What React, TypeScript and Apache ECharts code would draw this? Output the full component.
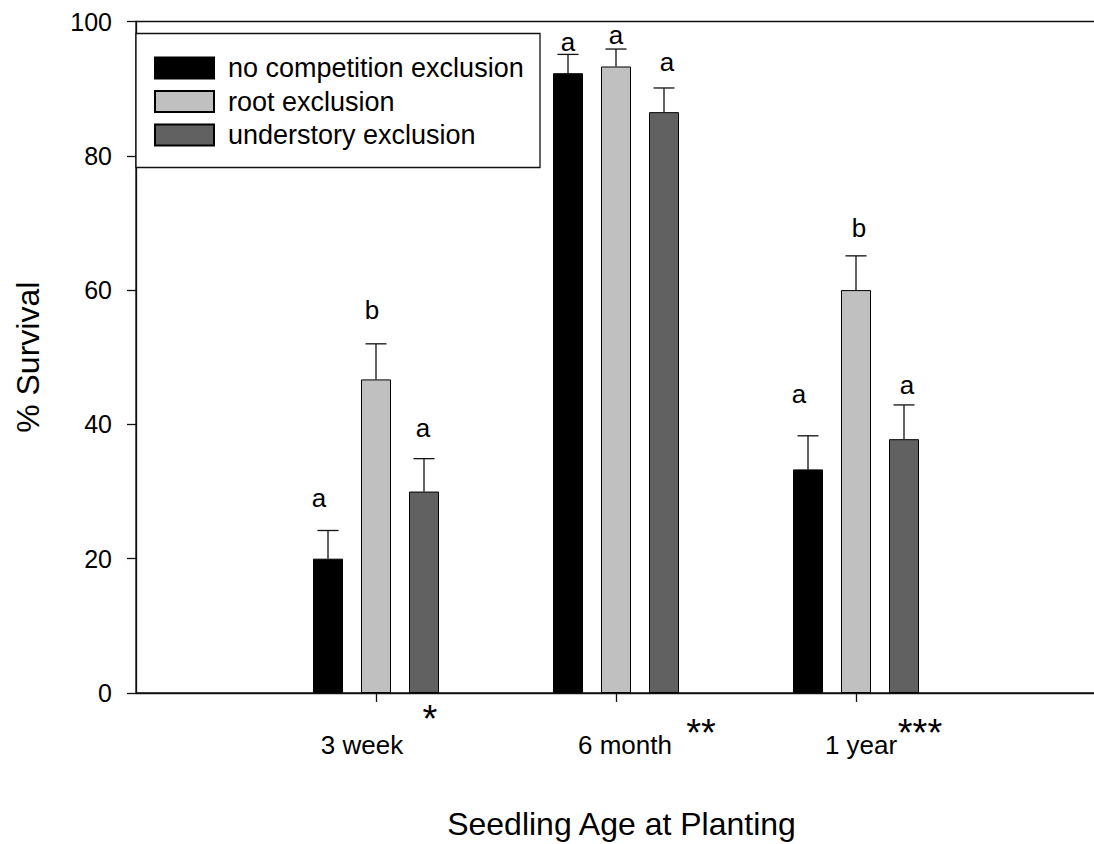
import React, { useEffect, useRef } from "react";
import * as echarts from "echarts";

// Seedling ages (x positions 1, 2, 3 on the axis) and significance marks
const categories = ["3 week", "6 month", "1 year"];
const significance = ["*", "**", "***"];

// Treatments
const seriesNames = ["no competition exclusion", "root exclusion", "understory exclusion"];

// Mean % survival per seedling age
const noExclusion = [20.0, 92.3, 33.3];
const rootExclusion = [46.7, 93.3, 60.0];
const understoryExclusion = [30.0, 86.5, 37.8];

// Standard errors
const noExclusionErr = [4.2, 2.8, 5.0];
const rootExclusionErr = [5.3, 2.6, 5.1];
const understoryExclusionErr = [4.9, 3.6, 5.1];

// Group letters and the % survival level of their baselines
const noExclusionLetters = ["a", "a", "a"];
const rootExclusionLetters = ["b", "a", "b"];
const understoryExclusionLetters = ["a", "a", "a"];
const noExclusionLetterAt = [27.8, 95.8, 43.4];
const rootExclusionLetterAt = [55.9, 96.8, 68.0];
const understoryExclusionLetterAt = [38.2, 92.8, 44.7];

const yTicks = [0, 20, 40, 60, 80, 100];

const FONT = "'Liberation Sans', Arial, Helvetica, sans-serif";
const INK = "#111";

const treatments = [
  { name: seriesNames[0], values: noExclusion, errs: noExclusionErr, letters: noExclusionLetters, letterAt: noExclusionLetterAt, color: "#000000", shift: -0.2, letterDx: [-9, 0, -9] },
  { name: seriesNames[1], values: rootExclusion, errs: rootExclusionErr, letters: rootExclusionLetters, letterAt: rootExclusionLetterAt, color: "#c0c0c0", shift: 0, letterDx: [-4, 0, 3] },
  { name: seriesNames[2], values: understoryExclusion, errs: understoryExclusionErr, letters: understoryExclusionLetters, letterAt: understoryExclusionLetterAt, color: "#616161", shift: 0.2, letterDx: [-1, 3, 3] },
];

// Pixel placement of the category labels and asterisks relative to each tick
const labelShift = [-14, 9, 5];
const starOffset = [
  [54, 26],
  [85, 40],
  [64, 40],
];

export default function App() {
  const ref = useRef<HTMLDivElement>(null);

  useEffect(() => {
    if (!ref.current) return;
    const chart = echarts.init(ref.current, null, { renderer: "svg" });

    const barSeries = treatments.map((t) => ({
      type: "bar",
      name: t.name,
      data: t.values.map((v, i) => [i + 1 + t.shift, v]),
      barWidth: 30,
      barGap: "-100%",
      itemStyle: { color: t.color, borderColor: "#000", borderWidth: 1 },
      z: 2,
    }));

    const errorSeries = treatments.map((t) => ({
      type: "custom",
      name: t.name + " SE",
      data: t.values.map((v, i) => [i + 1 + t.shift, v, t.errs[i], t.letterAt[i]]),
      z: 3,
      renderItem: (params: any, api: any) => {
        const x = api.value(0);
        const v = api.value(1);
        const e = api.value(2);
        const la = api.value(3);
        const base = api.coord([x, v]);
        const top = api.coord([x, v + e]);
        const lp = api.coord([x, la]);
        const idx = params.dataIndex;
        return {
          type: "group",
          children: [
            { type: "line", shape: { x1: base[0], y1: base[1], x2: top[0], y2: top[1] }, style: { stroke: INK, lineWidth: 1.3 } },
            { type: "line", shape: { x1: top[0] - 10.5, y1: top[1], x2: top[0] + 10.5, y2: top[1] }, style: { stroke: INK, lineWidth: 1.3 } },
            {
              type: "text",
              x: lp[0] + t.letterDx[idx],
              y: lp[1] + 5,
              style: { text: t.letters[idx], fill: "#000", font: `26px ${FONT}`, align: "center", verticalAlign: "bottom" },
            },
          ],
        };
      },
    }));

    const starSeries = {
      type: "custom",
      name: "significance",
      data: categories.map((_, i) => [i + 1, 0]),
      z: 3,
      renderItem: (params: any, api: any) => {
        const p = api.coord([api.value(0), api.value(1)]);
        const i = params.dataIndex;
        return {
          type: "text",
          x: p[0] + starOffset[i][0],
          y: p[1] + starOffset[i][1],
          style: { text: significance[i], fill: "#000", font: `38px ${FONT}`, align: "center", verticalAlign: "middle" },
        };
      },
    };

    chart.setOption({
      animation: false,
      backgroundColor: "#ffffff",
      textStyle: { fontFamily: FONT },
      grid: {
        left: 136,
        right: 4,
        top: 21.5,
        bottom: 151,
        show: true,
        borderColor: INK,
        borderWidth: 1.3,
        backgroundColor: "transparent",
        containLabel: false,
        outerBoundsMode: "none",
      },
      legend: {
        data: seriesNames,
        orient: "vertical",
        left: 154,
        top: 54.5,
        padding: 0,
        itemWidth: 59,
        itemHeight: 21,
        itemGap: 6.5,
        icon: "rect",
        selectedMode: false,
        textStyle: { fontSize: 27, color: "#000", fontFamily: FONT, padding: [0, 0, 0, 9] },
        z: 5,
      },
      graphic: [
        {
          type: "rect",
          shape: { x: 136, y: 33.5, width: 404, height: 134 },
          style: { fill: "#fff", stroke: INK, lineWidth: 1.3 },
          z: 4,
        },
      ],
      xAxis: {
        type: "value",
        min: 0,
        max: 4,
        interval: 1,
        splitLine: { show: false },
        axisLine: { show: true, lineStyle: { color: INK, width: 1.3 } },
        axisTick: { show: true, customValues: [1, 2, 3], length: 9, lineStyle: { color: INK, width: 1.3 } },
        axisLabel: {
          customValues: [1, 2, 3],
          margin: 39,
          fontSize: 26,
          color: "#000",
          formatter: (val: number) => {
            const i = Math.round(val) - 1;
            return `{c${i}|${categories[i]}}`;
          },
          rich: {
            c0: { fontSize: 26, color: "#000", padding: [0, -labelShift[0] * 2, 0, 0] },
            c1: { fontSize: 26, color: "#000", padding: [0, 0, 0, labelShift[1] * 2] },
            c2: { fontSize: 26, color: "#000", padding: [0, 0, 0, labelShift[2] * 2] },
          },
        },
        name: "Seedling Age at Planting",
        nameLocation: "middle",
        nameGap: 115,
        nameTextStyle: { fontSize: 32, color: "#000", padding: [0, 0, 0, 11] },
      },
      yAxis: {
        type: "value",
        min: 0,
        max: 100,
        interval: 20,
        splitLine: { show: false },
        axisLine: { show: true, lineStyle: { color: INK, width: 1.3 } },
        axisTick: { show: true, length: 9, lineStyle: { color: INK, width: 1.3 } },
        axisLabel: {
          margin: 24,
          fontSize: 25,
          color: "#000",
          formatter: (v: number) => (yTicks.includes(v) ? String(v) : ""),
        },
        name: "% Survival",
        nameLocation: "middle",
        nameGap: 92,
        nameTextStyle: { fontSize: 32, color: "#000" },
      },
      series: [...barSeries, ...errorSeries, starSeries],
    });

    return () => chart.dispose();
  }, []);

  return (
    <div style={{ position: "fixed", left: 0, top: 0, width: 1094, height: 844, overflow: "hidden", background: "#fff" }}>
      <div ref={ref} style={{ width: 1100, height: 844 }} />
    </div>
  );
}
